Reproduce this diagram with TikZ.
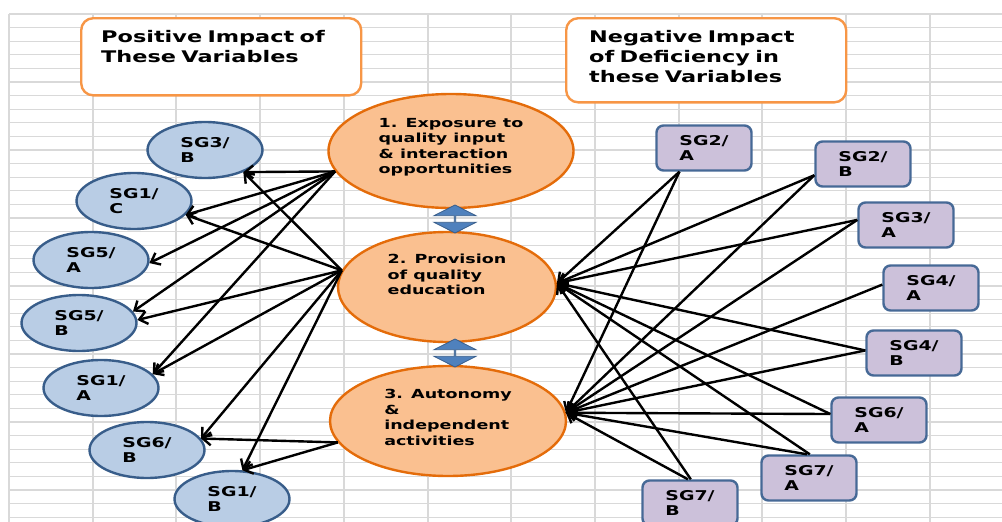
\documentclass[tikz,border=0pt]{standalone}
\usepackage{fontspec}
\setmainfont{DejaVu Sans}[FakeStretch=1.4]
\usepackage{tikz}
\usetikzlibrary{shapes.geometric, shapes.arrows, arrows.meta}
\definecolor{hdrorange}{RGB}{247,150,70}
\definecolor{factfill}{RGB}{250,192,144}
\definecolor{factdraw}{RGB}{228,108,10}
\definecolor{gainfill}{RGB}{185,205,229}
\definecolor{gaindraw}{RGB}{56,93,138}
\definecolor{lackfill}{RGB}{204,193,218}
\definecolor{lackdraw}{RGB}{70,105,150}
\definecolor{swapfill}{RGB}{79,129,189}
\definecolor{swapdraw}{RGB}{56,93,138}
\definecolor{gridgray}{RGB}{217,217,217}

\begin{document}
\begin{tikzpicture}[
  x=1pt, y=-1pt,
  header/.style={rectangle, draw=hdrorange, fill=white, line width=2.4pt, rounded corners=12pt, anchor=north west, text width=240pt, inner xsep=20pt, inner ysep=12pt, align=left, font=\fontsize{16}{20}\selectfont\bfseries},
  factor/.style={ellipse, draw=factdraw, fill=factfill, line width=2.4pt, inner sep=0pt, align=left, font=\fontsize{12.5}{15.5}\selectfont\bfseries},
  gain/.style={ellipse, draw=gaindraw, fill=gainfill, line width=2.4pt, minimum width=115pt, minimum height=56pt, inner sep=0pt, align=left, font=\fontsize{13.5}{15}\selectfont\bfseries},
  lack/.style={rectangle, draw=lackdraw, fill=lackfill, line width=2.4pt, rounded corners=7pt, minimum width=95pt, minimum height=45pt, inner sep=0pt, align=left, font=\fontsize{13.5}{15}\selectfont\bfseries},
  link/.style={-{Straight Barb[length=8pt,width=13pt]}, line width=2.4pt},
  swap/.style={double arrow, shape border rotate=90, draw=swapdraw, fill=swapfill, line width=0.8pt, minimum height=28pt, minimum width=42pt, double arrow head extend=11.5pt, double arrow tip angle=126, inner sep=0pt}
]
\useasboundingbox (0,0) rectangle (1002,522);

% sheet grid
\foreach \r in {0,...,37}
  \draw[gridgray, line width=1.2pt] (9,14+13.6*\r) -- (1002,14+13.6*\r);
\foreach \c in {0,...,11}
  \draw[gridgray, line width=2pt] (9+83.7*\c,14) -- (9+83.7*\c,522);

% headers
\node[header, text depth=41pt] (poshead) at (80,17) {Positive Impact of\\These Variables};
\node[header, text depth=48pt, inner xsep=23pt, text width=234pt] (neghead) at (565,17) {Negative Impact\\of Deficiency in\\these Variables};

% the three variables
\node[factor, minimum width=245pt, minimum height=114pt, text depth=10pt] (expo) at (451,151) {1. Exposure to\\quality input\\\& interaction\\opportunities};
\node[factor, minimum width=218pt, minimum height=110pt, text depth=25pt] (prov) at (447,287) {2. Provision\\of quality\\education};
\node[factor, minimum width=236pt, minimum height=110pt, text depth=7pt] (auto) at (448,421) {3. Autonomy\\\&\\independent\\activities};

\node[swap] (swapA) at (455,219) {};
\node[swap] (swapB) at (455,353) {};

% positive side
\node[gain] (sg3b) at (205,150) {SG3/\\B};
\node[gain] (sg1c) at (134,201) {SG1/\\C};
\node[gain] (sg5a) at (91,260) {SG5/\\A};
\node[gain] (sg5b) at (79,323) {SG5/\\B};
\node[gain] (sg1a) at (101,388) {SG1/\\A};
\node[gain] (sg6b) at (147,450) {SG6/\\B};
\node[gain] (sg1b) at (232,499) {SG1/\\B};

% negative side
\node[lack] (sg2a) at (704,148) {SG2/\\A};
\node[lack] (sg2b) at (863,164) {SG2/\\B};
\node[lack] (sg3a) at (906,225) {SG3/\\A};
\node[lack] (sg4a) at (931,288) {SG4/\\A};
\node[lack] (sg4b) at (914,353) {SG4/\\B};
\node[lack] (sg6a) at (879,420) {SG6/\\A};
\node[lack] (sg7a) at (809,478) {SG7/\\A};
\node[lack] (sg7b) at (690,503) {SG7/\\B};

% arrows to the left
\foreach \t/\a in {sg3b/-30, sg1c/-15, sg5a/-3, sg5b/12, sg1a/15}
  \draw[link] (expo.190) -- (\t.\a);
\foreach \t/\a in {sg3b/-30, sg1c/-15, sg5b/3, sg1a/15, sg6b/12, sg1b/70}
  \draw[link] (prov.171) -- (\t.\a);
\foreach \t/\a in {sg6b/12, sg1b/70}
  \draw[link] (auto.191) -- (\t.\a);

% arrows from the right
\foreach \s/\a in {sg2a/224, sg2b/193, sg3a/174, sg4b/177, sg6a/173, sg7a/88, sg7b/88}
  \draw[link] (\s.\a) -- (prov.2);
\foreach \s/\a in {sg2a/224, sg2b/193, sg3a/174, sg4a/176, sg4b/177, sg6a/173, sg7a/95, sg7b/95}
  \draw[link] (\s.\a) -- (auto.4);

\end{tikzpicture}
\end{document}
